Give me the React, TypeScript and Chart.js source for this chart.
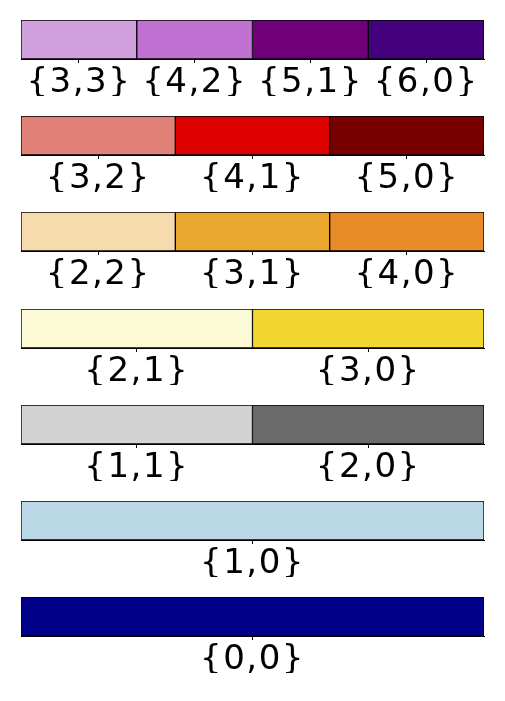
import React, { useEffect, useRef } from "react";
import { Chart, registerables } from "chart.js";

Chart.register(...registerables);

// Each row: category labels and segment colours
const row1Labels = ["{3,3}", "{4,2}", "{5,1}", "{6,0}"];
const row1Colors = ["#CFA0DC", "#C171D1", "#700079", "#45007D"];
const row2Labels = ["{3,2}", "{4,1}", "{5,0}"];
const row2Colors = ["#E08076", "#DC0000", "#780000"];
const row3Labels = ["{2,2}", "{3,1}", "{4,0}"];
const row3Colors = ["#F6DCAC", "#EAA72D", "#E78C29"];
const row4Labels = ["{2,1}", "{3,0}"];
const row4Colors = ["#FBFAD5", "#F4D631"];
const row5Labels = ["{1,1}", "{2,0}"];
const row5Colors = ["#D3D3D3", "#6B6B6B"];
const row6Labels = ["{1,0}"];
const row6Colors = ["#BAD8E6"];
const row7Labels = ["{0,0}"];
const row7Colors = ["#000088"];

const rows = [
  { labels: row1Labels, colors: row1Colors },
  { labels: row2Labels, colors: row2Colors },
  { labels: row3Labels, colors: row3Colors },
  { labels: row4Labels, colors: row4Colors },
  { labels: row5Labels, colors: row5Colors },
  { labels: row6Labels, colors: row6Colors },
  { labels: row7Labels, colors: row7Colors },
];

const ROW_TOPS = [0, 96, 192, 289, 385, 481, 577];
const ROW_H = 96;

const spacingPlugin = {
  id: "spacing",
  beforeDraw: (chart: any) => {
    try {
      chart.ctx.letterSpacing = "1.5px";
    } catch (e) {}
  },
};

function ColorRow({ labels, colors }: { labels: string[]; colors: string[] }) {
  const ref = useRef<HTMLCanvasElement>(null);
  useEffect(() => {
    if (!ref.current) return;
    const n = labels.length;
    const chart = new Chart(ref.current, {
      type: "bar",
      data: {
        labels: [""],
        datasets: labels.map((l, i) => ({
          label: l,
          data: [1],
          backgroundColor: colors[i],
          borderColor: "#000000",
          borderWidth: 1,
          borderSkipped: false,
          barPercentage: 1,
          categoryPercentage: 1,
        })),
      },
      plugins: [spacingPlugin],
      options: {
        animation: false,
        responsive: false,
        indexAxis: "y",
        layout: { padding: { top: 20, left: 21, right: 21, bottom: 0 } },
        plugins: { legend: { display: false }, tooltip: { enabled: false } },
        scales: {
          x: {
            type: "linear",
            stacked: true,
            min: 0,
            max: n,
            afterBuildTicks: (scale: any) => {
              scale.ticks = labels.map((_, i) => ({ value: i + 0.5 }));
            },
            afterFit: (scale: any) => {
              scale.height = 37;
            },
            ticks: {
              autoSkip: false,
              maxRotation: 0,
              padding: 0,
              color: "#000000",
              font: { family: "DejaVu Sans", size: 34 },
              callback: (v: any) => labels[Math.floor(Number(v))] ?? "",
            },
            grid: {
              display: true,
              drawOnChartArea: false,
              drawTicks: true,
              tickLength: 4,
              tickColor: "#000000",
              tickWidth: 1,
            },
            border: { display: true, color: "#000000", width: 1 },
          },
          y: { display: false, stacked: true },
        },
      },
    });
    return () => chart.destroy();
  }, [labels, colors]);
  return <canvas ref={ref} width={505} height={ROW_H} style={{ display: "block" }} />;
}

export default function App() {
  return (
    <div style={{ position: "absolute", left: 0, top: 0, width: 505, height: 701, background: "#fff" }}>
      {rows.map((r, k) => (
        <div key={k} style={{ position: "absolute", left: 0, top: ROW_TOPS[k], width: 505, height: ROW_H }}>
          <ColorRow labels={r.labels} colors={r.colors} />
        </div>
      ))}
    </div>
  );
}
